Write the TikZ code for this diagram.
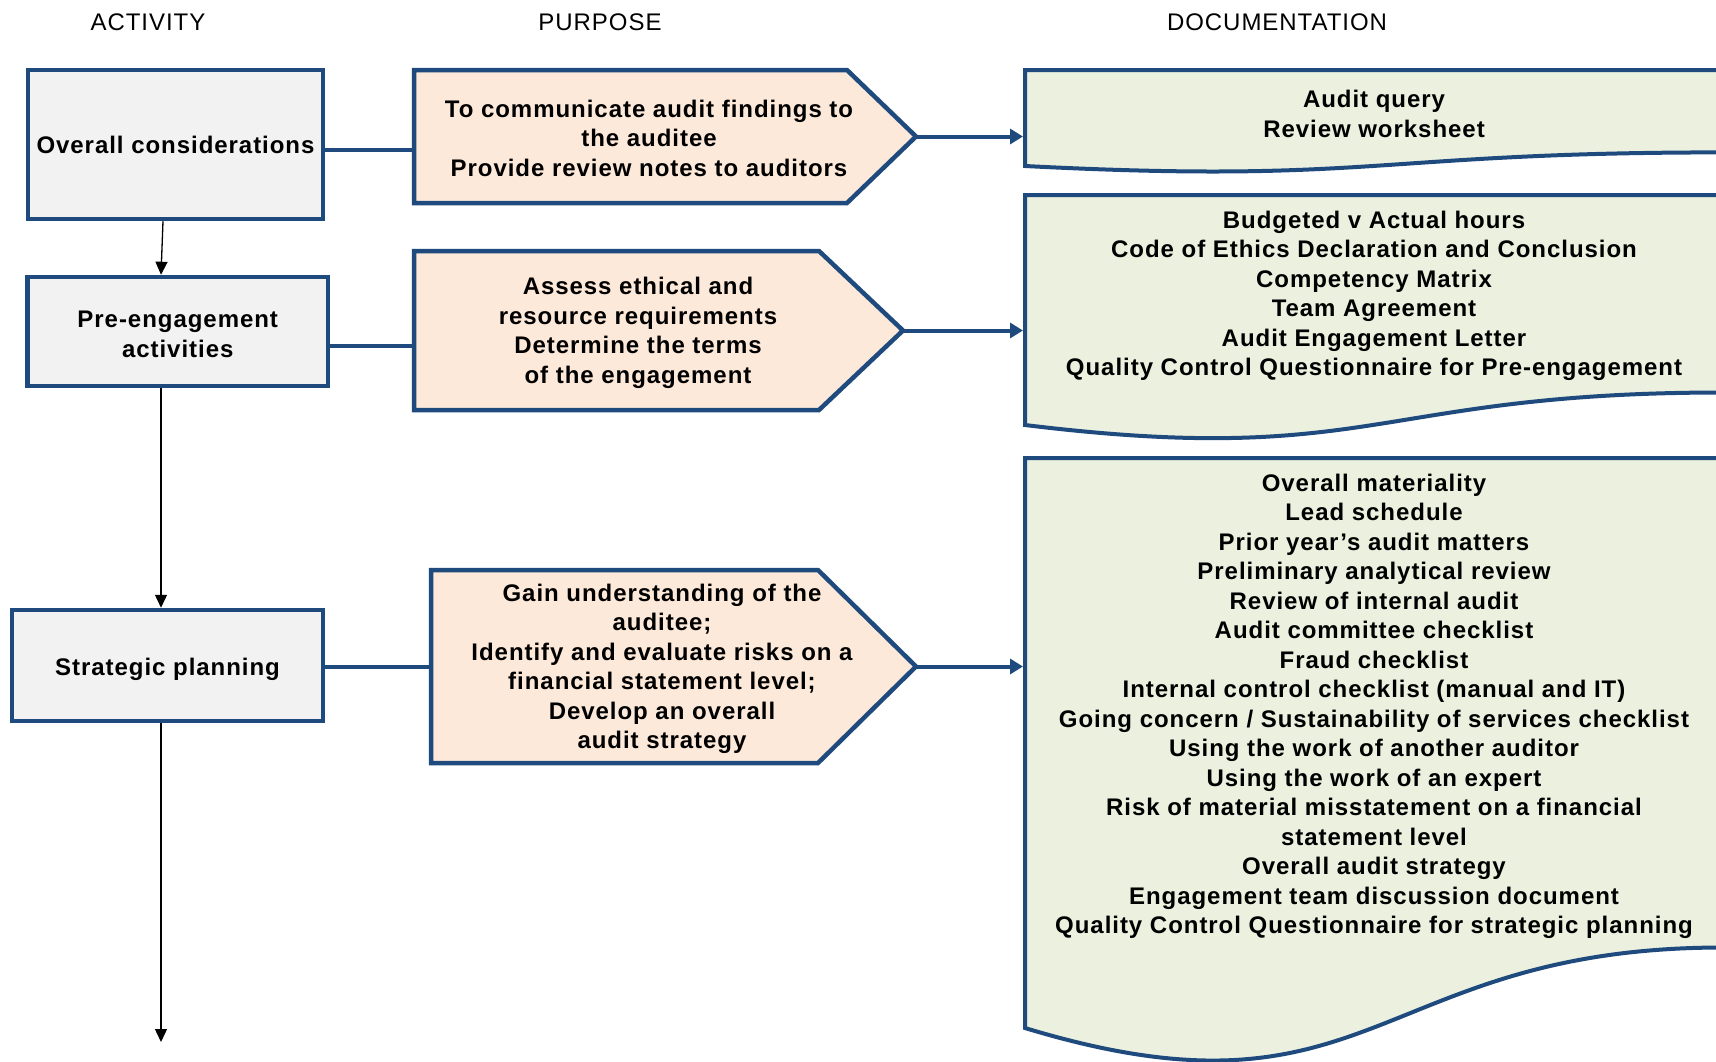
\documentclass[tikz,border=0pt]{standalone}
\usepackage{fontspec}
\setmainfont{Liberation Sans}[LetterSpace=4]
\usetikzlibrary{arrows.meta,backgrounds}
\definecolor{bdr}{HTML}{1F4A7E}
\definecolor{actfill}{HTML}{F2F2F2}
\definecolor{purfill}{HTML}{FDE9D9}
\definecolor{docfill}{HTML}{EBF0DF}
\newcommand\txtfont{\fontsize{24}{29.5}\selectfont\bfseries}
\newcommand\hdrfont{\fontsize{24}{29}\selectfont}
\begin{document}
\begin{tikzpicture}[x=1pt,y=-1pt,
  actbox/.style={draw=bdr, line width=4.5pt, fill=actfill, align=center, font=\txtfont, inner sep=0pt},
  anchorbox/.style={inner sep=0pt, outer sep=0pt, draw=none},
  ptext/.style={align=center, font=\txtfont, inner sep=0pt},
  dtext/.style={align=center, font=\txtfont, inner sep=0pt},
  hdr/.style={font=\hdrfont, anchor=base, inner sep=0pt},
  pshape/.style={draw=bdr, line width=4.5pt, fill=purfill, line join=miter},
  dshape/.style={draw=bdr, line width=4pt, fill=docfill, line join=miter},
  conn/.style={draw=bdr, line width=4.5pt},
  barrow/.style={draw=bdr, line width=4pt, -{Triangle[length=13pt,width=15pt]}, shorten >=2pt},
  varrow/.style={draw=black, line width=1.3pt, -{Triangle[length=13pt,width=12pt]}}]
\useasboundingbox (0,0) rectangle (1716,1061);
\clip (0,0) rectangle (1716,1061);

% headers
\node[hdr] (h1) at (148,30) {ACTIVITY};
\node[hdr] (h2) at (600,30) {PURPOSE};
\node[hdr] (h3) at (1277,30) {DOCUMENTATION};

% activity boxes
\node[actbox, minimum width=295pt, minimum height=149pt] (A1) at (175.5,144.5) {Overall considerations};
\node[actbox, minimum width=300.5pt, minimum height=109pt] (A2) at (177.75,331.5) {\rule{0pt}{22.3pt}Pre-engagement\\activities};
\node[actbox, minimum width=311pt, minimum height=111pt] (A3) at (167.5,665.5) {\rule{0pt}{26pt}Strategic planning};

% purpose anchor boxes
\node[anchorbox, minimum width=502pt, minimum height=133pt] (P1) at (665,136.5) {};
\node[anchorbox, minimum width=489pt, minimum height=159pt] (P2) at (658.5,330.5) {};
\node[anchorbox, minimum width=485pt, minimum height=193pt] (P3) at (673.5,666.5) {};

% documentation anchor boxes
\node[anchorbox, minimum width=698pt, minimum height=102.8pt] (D1) at (1374,121.4) {};
\node[anchorbox, minimum width=698pt, minimum height=246.3pt] (D2) at (1374,318.15) {};
\node[anchorbox, minimum width=698pt, minimum height=610.3pt] (D3) at (1374,763.15) {};

% purpose texts
\node[ptext] (P1t) at (649,138) {To communicate audit findings to\\the auditee\\Provide review notes to auditors};
\node[ptext] (P2t) at (638,333) {Assess ethical and\\resource requirements\\Determine the terms\\of the engagement};
\node[ptext] (P3t) at (662,669) {Gain understanding of the\\auditee;\\Identify and evaluate risks on a\\financial statement level;\\Develop an overall\\audit strategy};

% documentation texts
\node[dtext] (D1t) at (1374,114) {Audit query\\Review worksheet};
\node[dtext] (D2t) at (1374,296) {Budgeted v Actual hours\\Code of Ethics Declaration and Conclusion\\Competency Matrix\\Team Agreement\\Audit Engagement Letter\\Quality Control Questionnaire for Pre-engagement};
\node[dtext] (D3t) at (1374,706.5) {Overall materiality\\Lead schedule\\Prior year’s audit matters\\Preliminary analytical review\\Review of internal audit\\Audit committee checklist\\Fraud checklist\\Internal control checklist (manual and IT)\\Going concern / Sustainability of services checklist\\Using the work of another auditor\\Using the work of an expert\\Risk of material misstatement on a financial\\statement level\\Overall audit strategy\\Engagement team discussion document\\Quality Control Questionnaire for strategic planning};

\begin{scope}[on background layer]
\clip (0,0) rectangle (1716,1061);
\draw[pshape] (P1.north west) -- ([xshift=-69pt]P1.north east) -- (P1.east) -- ([xshift=-69pt]P1.south east) -- (P1.south west) -- cycle;
\draw[pshape] (P2.north west) -- ([xshift=-84pt]P2.north east) -- (P2.east) -- ([xshift=-84pt]P2.south east) -- (P2.south west) -- cycle;
\draw[pshape] (P3.north west) -- ([xshift=-98pt]P3.north east) -- (P3.east) -- ([xshift=-98pt]P3.south east) -- (P3.south west) -- cycle;
\draw[dshape] (1025,70) -- (1723,70) -- (1723,152.4) .. controls (1374,152.4) and (1374,183.9) .. (1025,166) -- cycle;
\draw[dshape] (1025,195) -- (1723,195) -- (1723,392.5) .. controls (1374,392.5) and (1374,467.8) .. (1025,425) -- cycle;
\draw[dshape] (1025,458) -- (1723,458) -- (1723,947.5) .. controls (1374,947.5) and (1374,1133.9) .. (1025,1028) -- cycle;
\end{scope}

% connectors activity -> purpose
\coordinate (y1) at (0,150);
\coordinate (y2) at (0,346);
\coordinate (y3) at (0,667);
\draw[conn] (A1.east |- y1) -- (P1.west |- y1);
\draw[conn] (A2.east |- y2) -- (P2.west |- y2);
\draw[conn] (A3.east |- y3) -- (P3.west |- y3);

% purpose -> documentation
\draw[barrow] (P1.east) -- (P1.east -| D1.west);
\draw[barrow] (P2.east) -- (P2.east -| D2.west);
\draw[barrow] (P3.east) -- (P3.east -| D3.west);

% activity flow
\coordinate (E) at (161,1042);
\draw[varrow] ([xshift=-12.5pt]A1.south) -- ([xshift=-16.75pt]A2.north);
\draw[varrow] ([xshift=-16.75pt]A2.south) -- ([xshift=-6.5pt]A3.north);
\draw[varrow] ([xshift=-6.5pt]A3.south) -- (E);
\end{tikzpicture}
\end{document}
